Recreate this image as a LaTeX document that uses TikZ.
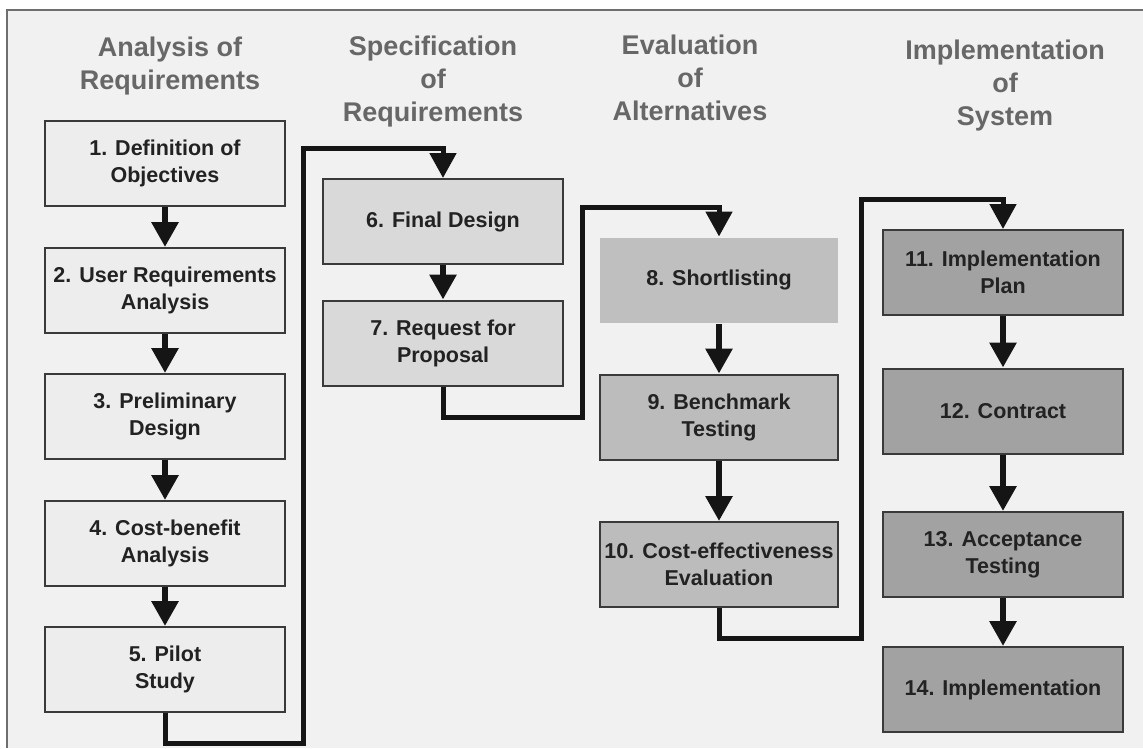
\documentclass[tikz,border=0pt]{standalone}
\usepackage{fontspec}
\setmainfont{Liberation Sans}
\usetikzlibrary{arrows.meta}
\definecolor{bgc}{HTML}{F1F1F1}
\definecolor{framec}{HTML}{6E6E6E}
\definecolor{hdc}{HTML}{676767}
\definecolor{txc}{HTML}{222222}
\definecolor{bordc}{HTML}{3A3A3A}
\definecolor{fillA}{HTML}{EDEDED}
\definecolor{fillB}{HTML}{D9D9D9}
\definecolor{fillC}{HTML}{BFBFBF}
\definecolor{fillD}{HTML}{BCBCBC}
\definecolor{fillE}{HTML}{A2A2A2}
\definecolor{linec}{HTML}{151515}
\tikzset{
  stepbox/.style={draw=bordc, line width=2pt, minimum width=240pt, minimum height=85pt,
    inner sep=0pt, align=center, text=txc,
    font=\bfseries\fontsize{21.5}{27}\selectfont},
  header/.style={anchor=north, inner sep=0pt, align=center, text=hdc,
    font=\bfseries\fontsize{27}{33}\selectfont},
  flow/.style={linec, line width=6pt, -{Triangle[width=26pt,length=25pt]}},
  conn/.style={linec, line width=5pt, line join=miter, -{Triangle[width=26pt,length=25pt]}},
}
\begin{document}
\begin{tikzpicture}[x=1pt,y=-1pt]
\useasboundingbox (0,0) rectangle (1143,748);
\fill[bgc] (7,10) rectangle (1143,748);
\draw[framec, line width=1.5pt] (7,748) -- (7,10) -- (1143,10);

% headers
\node[header] (h1) at (170,37) {Analysis of\\Requirements};
\node[header] (h2) at (433,36) {Specification\\of\\Requirements};
\node[header] (h3) at (690,35) {Evaluation\\of\\Alternatives};
\node[header] (h4) at (1005,40) {Implementation\\of\\System};

% column 1
\node[stepbox, fill=fillA] (b1) at (165,163.5) {1. Definition of\\Objectives};
\node[stepbox, fill=fillA] (b2) at (165,290.5) {2. User Requirements\\Analysis};
\node[stepbox, fill=fillA] (b3) at (165,416.5) {3. Preliminary\\Design};
\node[stepbox, fill=fillA] (b4) at (165,543.5) {4. Cost-benefit\\Analysis};
\node[stepbox, fill=fillA] (b5) at (165,669.5) {5. Pilot\\Study};

% column 2
\node[stepbox, fill=fillB] (b6) at (443,221.5) {6. Final Design};
\node[stepbox, fill=fillB] (b7) at (443,343) {7. Request for\\Proposal};

% column 3
\node[stepbox, fill=fillC, draw=none, minimum width=238pt] (b8) at (719,280) {8. Shortlisting};
\node[stepbox, fill=fillD, minimum width=238pt] (b9) at (719,417) {9. Benchmark\\Testing};
\node[stepbox, fill=fillD, minimum width=238pt] (b10) at (719,564.5) {10. Cost-effectiveness\\Evaluation};

% column 4
\node[stepbox, fill=fillE] (b11) at (1003,272.5) {11. Implementation\\Plan};
\node[stepbox, fill=fillE] (b12) at (1003,411) {12. Contract};
\node[stepbox, fill=fillE] (b13) at (1003,554.5) {13. Acceptance\\Testing};
\node[stepbox, fill=fillE] (b14) at (1003,689.5) {14. Implementation};

% arrows within columns
\draw[flow] (b1) -- (b2);
\draw[flow] (b2) -- (b3);
\draw[flow] (b3) -- (b4);
\draw[flow] (b4) -- (b5);
\draw[flow] (b6) -- (b7);
\draw[flow] (b8) -- (b9);
\draw[flow] (b9) -- (b10);
\draw[flow] (b11) -- (b12);
\draw[flow] (b12) -- (b13);
\draw[flow] (b13) -- (b14);

% connectors between columns
\coordinate (c1a) at (303,743);
\coordinate (c1b) at (303,148);
\coordinate (c2a) at (582,417);
\coordinate (c2b) at (582,207);
\coordinate (c3a) at (861,638);
\coordinate (c3b) at (861,199);
\draw[conn] (b5.south) |- (c1a) -- (c1b) -| (b6.north);
\draw[conn] (b7.south) |- (c2a) -- (c2b) -| (b8.north);
\draw[conn] (b10.south) |- (c3a) -- (c3b) -| (b11.north);
\end{tikzpicture}
\end{document}
